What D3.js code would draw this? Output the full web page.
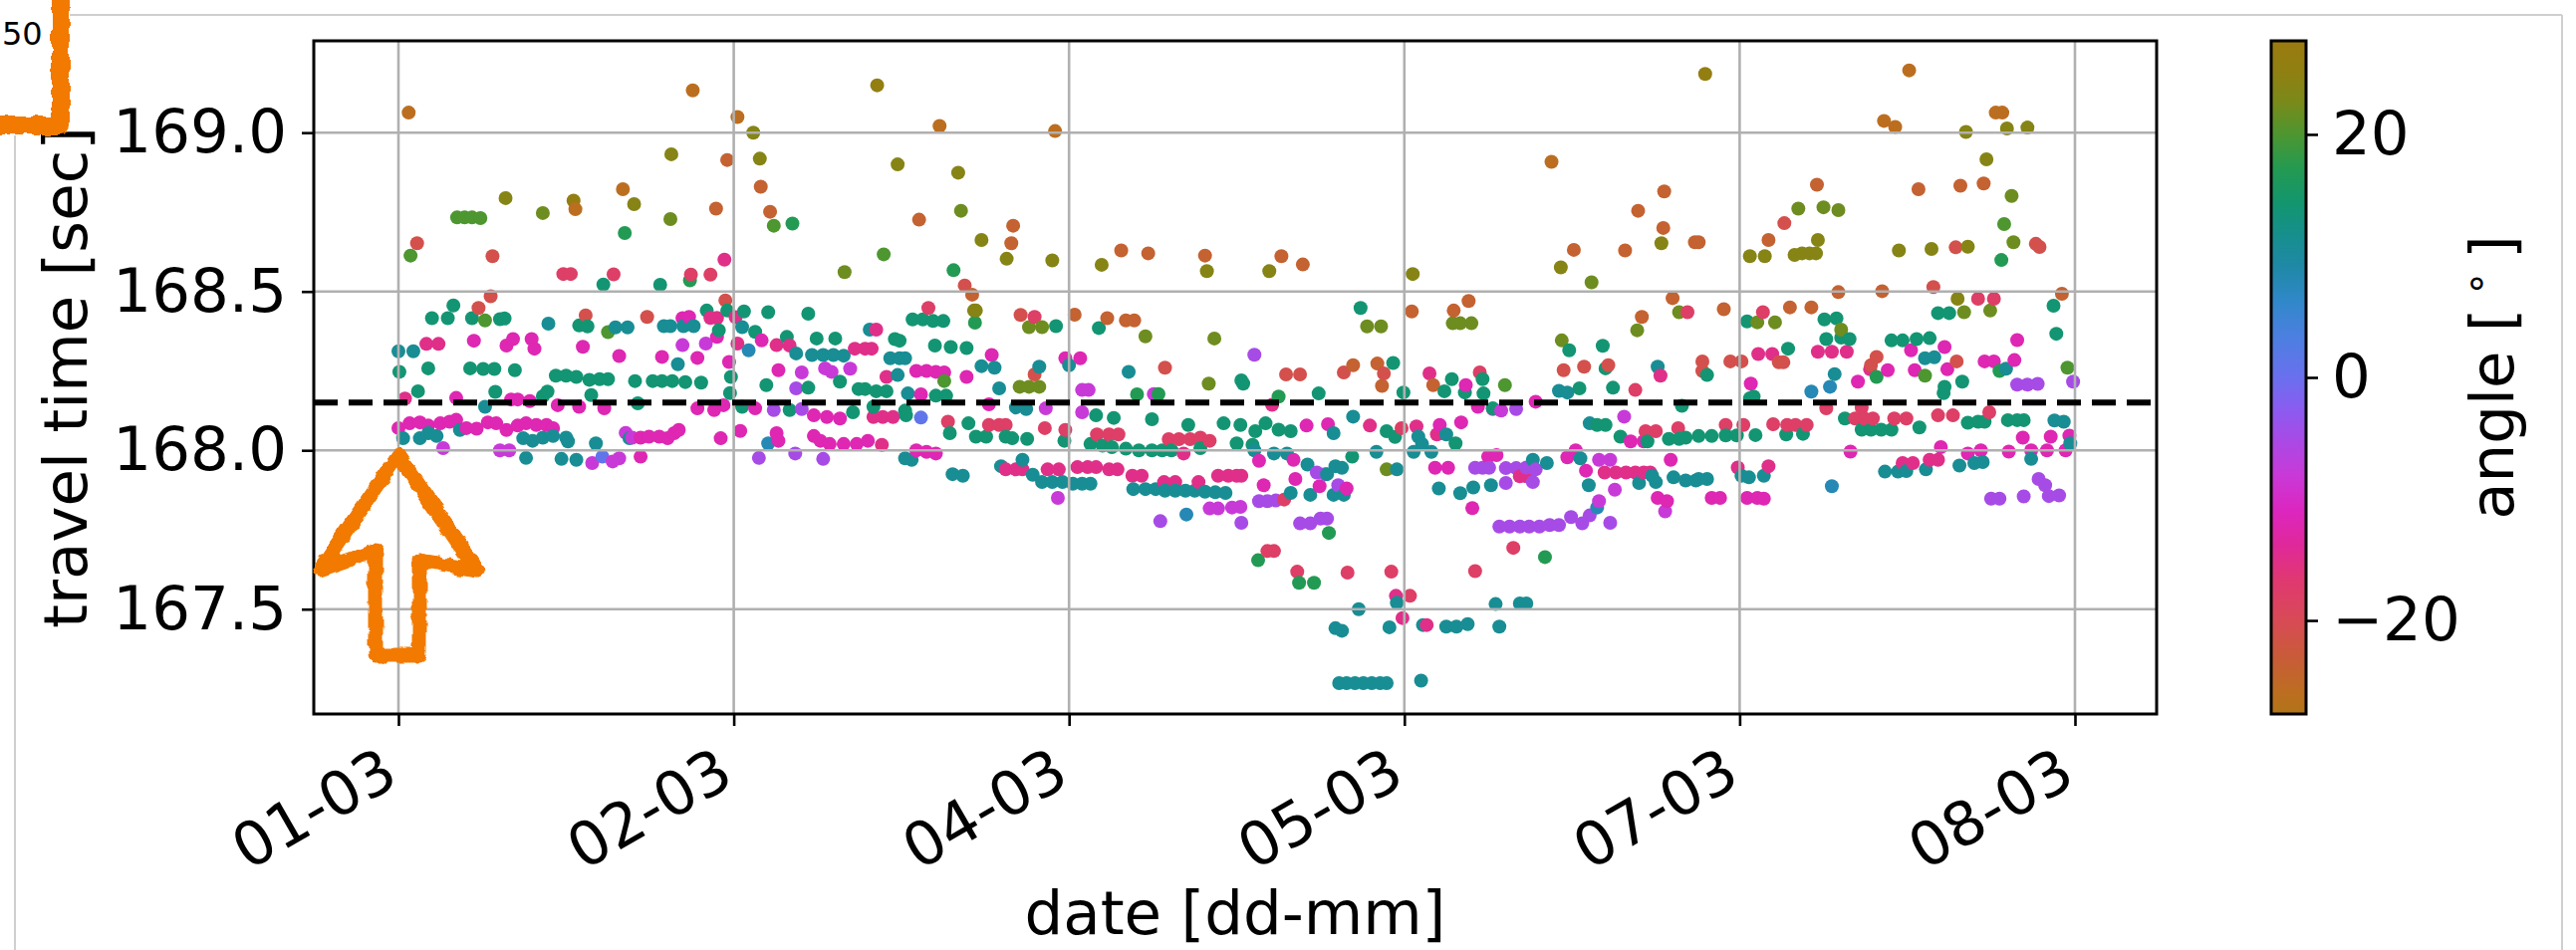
<!DOCTYPE html>
<html><head><meta charset="utf-8">
<script src="https://cdn.jsdelivr.net/npm/d3@7"></script>
<style>
html,body{margin:0;padding:0;background:#fff;}
svg{display:block;}
text{font-family:"DejaVu Sans",sans-serif;fill:#000;}
</style>
</head><body>
<svg id="c" width="2586" height="954"></svg>
<script>
// ---------------- data ----------------
// x tick positions (36 h apart) and labels rendered as dd-mm
const xTickDates = ["2020-03-01T00:00:00Z","2020-03-02T12:00:00Z","2020-03-04T00:00:00Z","2020-03-05T12:00:00Z","2020-03-07T00:00:00Z","2020-03-08T12:00:00Z"];
const yTicks = [167.5, 168.0, 168.5, 169.0];
const cbTicks = [-20, 0, 20];
const meanTravelTime = 168.15;
const startDate = "2020-03-01T00:00:00Z";

// colormap (angle in degrees -> colour), cyclic "phase"-like map
const cmapAngles = [-27.7,-26,-23.1,-20,-16.6,-13.8,-10.9,-8,-5.1,-2.6,0,3.5,6.4,9,11.8,14.4,17.3,20,22.7,25,27.7];
const cmapColors = ["#b07418","#bc6e20","#c85c38","#d84a55","#e03872","#e0289a","#dc26c0","#c83ad8","#a84ae6","#8a5cf0","#6a70ee","#4a80e0","#3088c8","#2088a8","#168f8c","#13966e","#259a50","#4d9630","#7a8a1a","#8f8012","#9a7a10"];

// points: [hours since 01-03 00:00, travel time (s)], grouped by angle (deg)
const pts_p26 = [[51.4,169.149],[18.8,168.786],[140.3,169.185]];
const pts_m26 = [[1.1,169.063],[31.6,169.133],[36.4,169.049],[58.1,169.021],[70.5,169.005],[24.1,168.822],[19.0,168.759],[123.8,168.908],[159.5,169.037],[160.7,169.018],[162.2,169.196],[171.5,169.063],[172.2,169.063]];
const pts_m24 = [[35.3,168.914],[38.9,168.83],[34.1,168.761],[39.9,168.751],[55.9,168.726],[66.0,168.707],[65.8,168.652],[61.6,168.49],[77.6,168.629],[80.5,168.62],[86.6,168.613],[94.8,168.611],[97.1,168.585],[126.2,168.631],[131.7,168.629],[133.1,168.754],[135.9,168.815],[135.8,168.70],[139.2,168.655],[139.6,168.655],[147.1,168.662],[152.3,168.836],[154.6,168.498],[159.3,168.501],[163.2,168.822],[167.7,168.833],[170.2,168.84],[178.6,168.493],[72.6,168.427],[76.1,168.416],[78.1,168.409],[79.0,168.409],[102.5,168.268],[105.1,168.273],[105.6,168.203],[108.8,168.437],[113.3,168.44],[114.9,168.47],[111.1,168.205],[133.5,168.42],[136.8,168.479],[142.3,168.444],[149.4,168.45],[151.7,168.45]];
const pts_m21 = [[2.0,168.652],[10.1,168.611],[60.8,168.519],[148.8,168.715],[164.8,168.514],[167.2,168.639],[175.8,168.65],[176.2,168.64],[9.9,168.485],[35.1,168.472],[8.6,168.448],[20.1,168.425],[26.7,168.42],[66.8,168.426],[82.3,168.26],[68.3,168.239],[95.3,168.239],[96.8,168.239],[101.5,168.245],[105.8,168.242],[125.1,168.252],[127.3,168.263],[129.9,168.268],[140.0,168.28],[140.0,168.25],[143.0,168.28],[144.2,168.28],[148.2,168.277],[148.7,168.277],[158.7,168.294],[158.1,168.268],[167.3,168.28]];
const pts_m18 = [[17.7,168.555],[18.5,168.555],[23.1,168.554],[31.4,168.553],[33.5,168.553],[56.9,168.448],[68.3,168.42],[59.0,168.09],[69.4,168.07],[71.6,168.064],[75.0,168.05],[76.3,168.05],[77.3,168.05],[82.7,168.035],[83.8,168.035],[85.0,168.035],[86.1,168.04],[87.1,168.03],[63.4,168.08],[64.5,168.08],[65.2,168.08],[107.7,168.07],[133.9,168.06],[135.0,168.06],[137.4,168.07],[138.4,168.435],[132.8,168.19],[116.1,168.245],[95.1,167.845],[93.3,167.683],[94.0,167.683],[96.5,167.618],[101.9,167.615],[106.6,167.618],[108.6,167.542],[119.7,167.693],[115.6,167.62],[169.6,168.477],[171.3,168.477],[146.5,168.435],[153.3,168.132],[142.5,168.08],[144.4,168.08],[147.6,168.082],[149.1,168.08],[150.0,168.08],[151.2,168.08],[156.4,168.1],[157.4,168.1],[158.3,168.1],[160.6,168.1],[161.9,168.1],[157.1,168.134],[165.3,168.11],[166.9,168.11],[170.8,168.12]];
const pts_m15 = [[35.0,168.6],[33.5,168.417],[34.2,168.417],[36.2,168.419],[36.4,168.336],[40.6,168.331],[0.7,168.163],[3.0,168.335],[4.3,168.335],[42.0,168.33],[49.0,168.32],[50.1,168.32],[50.8,168.32],[51.3,168.38],[52.4,168.231],[51.0,168.105],[52.0,168.105],[53.1,168.105],[51.9,168.017],[84.3,167.99],[65.2,167.94],[66.3,167.94],[67.0,167.94],[69.7,167.94],[70.9,167.94],[72.9,167.947],[74.0,167.947],[74.9,167.947],[76.3,167.94],[77.2,167.94],[78.8,167.92],[79.8,167.92],[82.2,167.9],[83.4,167.9],[85.9,167.9],[88.0,167.92],[89.1,167.92],[90.0,167.92],[90.5,167.92],[93.8,168.143],[104.3,168.078],[109.3,168.075],[111.5,168.05],[110.7,168.242],[135.5,168.235],[107.1,167.542],[107.8,167.472],[110.4,167.45],[120.4,167.918],[121.1,167.918],[129.5,167.93],[130.7,167.93],[131.8,167.93],[132.8,167.93],[133.7,167.93],[134.4,167.93],[146.0,168.303],[147.5,168.303],[152.4,168.31],[153.9,168.31],[155.5,168.31],[158.0,168.255],[143.8,167.946],[147.1,167.95],[161.5,167.96],[162.6,167.96],[164.4,167.97],[165.3,167.97]];
const pts_m12 = [[8.1,168.345],[11.6,168.33],[12.3,168.35],[14.3,168.35],[14.6,168.32],[19.8,168.326],[23.7,168.297],[28.3,168.294],[32.1,168.291],[34.2,168.357],[35.5,168.278],[39.0,168.346],[40.8,168.252],[30.5,168.416],[31.2,168.42],[6.2,168.165],[12.1,168.16],[12.8,168.16],[14.1,168.155],[17.1,168.142],[19.4,168.137],[22.1,168.132],[32.1,168.132],[33.9,168.127],[34.9,168.142],[38.3,168.132],[0.0,168.07],[1.2,168.085],[2.3,168.088],[3.2,168.078],[4.5,168.085],[5.5,168.09],[6.2,168.096],[7.3,168.07],[8.4,168.068],[9.6,168.088],[10.5,168.085],[11.6,168.064],[12.8,168.078],[13.7,168.085],[14.8,168.08],[15.9,168.08],[16.6,168.07],[26.0,168.04],[26.9,168.043],[28.0,168.043],[28.9,168.038],[29.6,168.054],[30.1,168.064],[34.6,168.038],[36.7,168.061],[40.6,168.054],[40.8,168.03],[26.0,167.98],[63.7,168.3],[61.0,168.231],[55.6,168.25],[56.7,168.25],[57.7,168.247],[58.6,168.245],[56.1,168.176],[71.6,168.29],[73.2,168.29],[63.4,168.145],[44.6,168.11],[46.0,168.105],[47.4,168.1],[44.6,168.045],[45.3,168.03],[46.3,168.02],[47.8,168.02],[49.2,168.02],[50.4,168.03],[55.6,168.0],[56.7,167.995],[57.7,167.99],[114.6,168.205],[115.9,168.137],[122.1,168.153],[97.5,168.078],[99.8,168.082],[111.8,168.08],[114.1,168.088],[92.4,167.967],[96.1,167.97],[92.9,167.89],[96.3,167.91],[98.9,167.887],[101.8,167.88],[111.3,167.945],[112.7,167.945],[115.3,167.818],[117.0,167.98],[117.9,167.985],[125.5,167.978],[126.4,168.0],[127.5,167.936],[135.2,167.85],[136.2,167.84],[136.6,167.97],[132.3,168.028],[133.7,168.028],[145.2,168.21],[156.7,168.216],[159.9,168.252],[162.4,168.315],[162.8,168.252],[166.0,168.325],[166.3,168.255],[170.3,168.28],[171.3,168.28],[173.5,168.284],[173.8,168.347],[141.0,167.85],[141.9,167.85],[144.8,167.85],[145.9,167.85],[146.6,167.848],[155.9,167.996],[165.6,168.01],[168.5,167.99],[169.9,168.0],[172.9,167.996],[174.4,168.04],[175.3,168.0],[177.0,168.0],[179.0,168.0],[177.4,168.043],[179.4,168.046]];
const pts_m8 = [[30.5,168.331],[33.0,168.336],[24.4,168.055],[25.1,168.04],[4.8,168.007],[10.9,168.0],[11.9,168.0],[20.8,167.96],[23.0,167.965],[23.7,167.975],[43.3,168.245],[45.8,168.258],[46.5,168.247],[48.5,168.257],[73.4,168.19],[74.1,168.19],[81.1,168.177],[69.5,168.132],[73.4,168.12],[70.8,167.85],[87.1,167.817],[88.0,167.817],[89.5,167.82],[90.4,167.822],[117.5,168.13],[118.4,168.125],[131.6,168.106],[128.9,167.84],[128.9,167.97],[130.1,167.97],[130.6,167.876],[136.0,167.808]];
const pts_m5 = [[40.3,168.127],[38.7,167.976],[42.7,168.195],[43.3,168.13],[42.6,167.99],[45.6,167.973],[81.8,167.777],[90.5,167.772],[91.9,168.301],[120.0,168.13],[92.4,167.84],[93.3,167.84],[94.2,167.842],[98.6,167.93],[99.5,167.925],[100.9,167.89],[96.8,167.77],[97.9,167.77],[99.0,167.785],[99.7,167.785],[115.6,167.945],[116.4,167.945],[117.1,167.945],[118.9,167.897],[118.9,167.944],[120.0,167.944],[121.1,167.946],[122.1,167.94],[121.8,167.9],[118.2,167.76],[119.3,167.76],[120.4,167.76],[121.4,167.76],[122.5,167.76],[123.6,167.765],[124.6,167.765],[125.9,167.79],[127.1,167.77],[127.9,167.795],[130.1,167.772],[179.8,168.216],[173.8,168.207],[174.9,168.207],[176.0,168.209],[176.1,167.91],[176.8,167.89],[171.0,167.848],[171.9,167.848],[174.5,167.855],[177.2,167.856],[178.3,167.858]];
const pts_p1 = [[21.9,167.98],[56.1,168.103]];
const pts_p8 = [[37.6,168.315],[39.7,168.022],[84.6,167.798],[128.7,167.82],[151.7,168.185],[153.7,168.2],[153.9,167.887]];
const pts_p11 = [[16.1,168.399],[23.3,168.387],[24.6,168.387],[28.5,168.391],[29.2,168.391],[30.6,168.391],[31.7,168.391],[36.9,168.388],[0.0,168.312],[1.6,168.312],[30.0,168.271],[9.3,168.137],[0.5,168.038],[2.3,168.038],[3.2,168.054],[4.1,168.045],[6.6,168.064],[13.4,168.038],[14.4,168.03],[15.5,168.04],[16.6,168.045],[18.0,168.04],[18.2,168.028],[21.2,168.022],[24.8,168.038],[13.7,167.976],[17.5,167.973],[19.1,167.97],[42.7,168.305],[44.4,168.3],[45.6,168.3],[46.7,168.3],[47.8,168.298],[50.6,168.38],[52.8,168.29],[53.8,168.29],[54.4,168.29],[53.6,168.237],[62.6,168.265],[64.0,168.26],[54.7,168.179],[64.5,168.195],[68.8,168.263],[72.0,168.268],[78.4,168.247],[66.3,168.135],[67.4,168.13],[54.4,167.975],[55.1,167.97],[59.5,167.925],[60.6,167.92],[64.7,167.95],[67.0,167.97],[68.1,167.923],[69.1,167.9],[70.2,167.9],[71.3,167.9],[72.4,167.895],[73.4,167.895],[74.3,167.895],[78.9,167.878],[80.2,167.878],[81.3,167.878],[82.3,167.873],[83.4,167.873],[84.5,167.873],[85.5,167.873],[86.6,167.87],[87.7,167.868],[88.8,167.866],[100.4,168.054],[102.5,168.106],[109.5,168.043],[109.9,168.02],[112.5,168.05],[91.9,168.0],[94.0,167.99],[95.4,167.99],[105.0,167.995],[109.0,167.995],[110.9,167.995],[95.8,167.866],[97.6,167.955],[99.7,167.925],[100.6,167.95],[101.3,167.945],[97.9,167.86],[100.4,167.86],[101.5,167.86],[107.2,167.52],[103.1,167.5],[100.6,167.44],[101.3,167.432],[106.4,167.443],[110.0,167.45],[112.5,167.445],[113.6,167.445],[114.8,167.453],[118.2,167.445],[117.8,167.516],[120.4,167.518],[121.1,167.518],[101.0,167.267],[101.8,167.267],[102.7,167.267],[103.6,167.267],[104.5,167.267],[105.4,167.267],[106.1,167.267],[109.8,167.275],[107.2,167.94],[111.7,167.88],[114.0,167.865],[115.4,167.883],[117.3,167.89],[121.8,167.97],[123.3,167.96],[124.6,168.187],[125.5,168.182],[126.9,167.975],[127.8,167.89],[127.9,168.085],[133.2,167.897],[134.6,167.92],[135.0,167.9],[135.2,168.263],[136.9,167.915],[138.2,167.905],[139.3,167.905],[154.2,168.24],[163.9,168.29],[164.9,168.293],[172.6,168.257],[177.8,168.094],[178.8,168.09],[139.6,167.91],[140.5,167.91],[144.2,167.92],[145.0,167.915],[146.6,167.92],[159.6,167.933],[161.0,167.933],[161.9,167.935],[164.0,167.94],[167.6,167.952],[169.2,167.96],[170.1,167.963],[175.3,167.973],[179.5,168.022]];
const pts_p14 = [[22.0,168.522],[28.1,168.521],[5.9,168.456],[3.6,168.416],[5.3,168.416],[7.9,168.416],[10.9,168.413],[11.4,168.415],[19.4,168.393],[20.3,168.39],[33.1,168.44],[34.4,168.378],[35.3,168.44],[37.1,168.437],[39.7,168.435],[38.3,168.373],[0.1,168.247],[3.2,168.258],[7.7,168.258],[9.1,168.256],[10.3,168.256],[12.5,168.252],[16.9,168.235],[18.0,168.235],[19.1,168.231],[20.5,168.222],[21.6,168.224],[22.5,168.224],[25.4,168.218],[27.3,168.218],[28.3,168.218],[29.4,168.218],[30.8,168.215],[32.5,168.213],[35.7,168.231],[39.5,168.205],[2.1,168.186],[10.4,168.184],[15.5,168.17],[16.0,168.185],[20.7,168.174],[25.7,168.148],[35.6,168.18],[36.9,168.137],[44.0,168.43],[55.2,168.412],[56.3,168.412],[57.4,168.407],[58.5,168.407],[70.6,168.391],[75.2,168.385],[41.7,168.357],[44.9,168.352],[46.9,168.352],[53.3,168.35],[53.8,168.345],[57.6,168.33],[59.3,168.325],[61.0,168.322],[47.4,168.216],[44.0,168.197],[49.4,168.193],[50.1,168.193],[51.3,168.186],[52.4,168.186],[57.7,168.172],[58.8,168.172],[90.5,168.22],[90.7,168.21],[42.0,168.127],[48.8,168.12],[51.0,168.137],[54.4,168.125],[54.5,168.11],[74.9,168.11],[76.8,168.102],[80.9,168.098],[84.8,168.08],[88.6,168.085],[90.4,168.08],[59.2,168.054],[61.2,168.085],[62.0,168.043],[63.1,168.043],[65.2,168.043],[65.9,168.038],[67.5,168.036],[71.5,168.03],[74.3,168.02],[75.6,168.015],[76.6,168.01],[78.1,168.005],[79.5,168.0],[80.9,168.0],[82.0,168.0],[83.0,168.0],[86.1,168.007],[90.0,168.022],[103.3,168.448],[106.8,168.275],[113.1,168.224],[112.3,168.186],[114.5,168.182],[116.4,168.224],[116.5,168.179],[107.9,168.182],[98.8,168.179],[125.7,168.315],[129.3,168.329],[129.6,168.258],[140.5,168.237],[126.8,168.195],[130.4,168.197],[117.5,168.132],[137.8,168.14],[131.2,168.043],[134.1,168.028],[136.4,168.036],[137.5,168.036],[138.2,168.04],[92.0,168.06],[93.1,168.085],[94.5,168.065],[95.8,168.06],[106.1,168.06],[107.0,168.042],[113.5,168.022],[91.7,168.017],[102.4,167.98],[128.7,168.08],[129.6,168.08],[165.3,168.432],[166.5,168.432],[177.7,168.455],[178.0,168.367],[144.8,168.406],[149.2,168.32],[153.1,168.412],[154.4,168.415],[153.3,168.35],[154.9,168.355],[155.8,168.35],[160.3,168.346],[161.5,168.346],[163.0,168.35],[164.4,168.353],[166.0,168.2],[165.9,168.18],[167.9,168.216],[145.1,168.164],[145.5,168.169],[139.6,168.045],[141.0,168.045],[142.5,168.047],[143.7,168.047],[145.7,168.048],[149.0,168.05],[150.8,168.052],[155.3,168.1],[157.1,168.065],[158.1,168.065],[159.2,168.065],[160.3,168.065],[163.3,168.072],[168.5,168.087],[169.6,168.09],[170.3,168.09],[172.8,168.095],[173.8,168.095],[174.5,168.095]];
const pts_p17 = [[42.3,168.714],[24.3,168.684],[31.3,168.535],[59.6,168.567],[172.1,168.599],[61.9,168.402],[79.3,168.176],[81.6,168.177],[94.5,168.169],[99.9,167.74],[92.3,167.654],[96.7,167.583],[98.3,167.583],[123.1,167.664],[158.7,168.231],[171.9,168.25]];
const pts_p20 = [[6.3,168.733],[7.1,168.733],[7.9,168.733],[8.8,168.731],[40.3,168.707],[1.3,168.613],[52.1,168.617],[172.4,168.712],[9.3,168.409],[22.5,168.372],[58.6,168.218],[118.8,168.205],[179.2,168.26],[163.9,168.235]];
const pts_p22 = [[15.5,168.747],[29.2,168.728],[60.4,168.754],[47.9,168.561],[128.1,168.529],[150.3,168.761],[153.0,168.765],[154.6,168.756],[173.2,168.801],[173.4,168.655],[67.7,168.388],[69.1,168.388],[80.2,168.359],[87.6,168.352],[87.0,168.21],[66.7,168.2],[67.7,168.2],[68.8,168.2],[104.0,168.39],[105.5,168.39],[113.2,168.4],[114.0,168.4],[115.2,168.4],[124.9,168.346],[133.0,168.378],[137.5,168.435],[106.1,167.94],[168.1,168.435],[170.9,168.44],[145.9,168.403],[147.8,168.403],[154.9,168.38]];
const pts_p24 = [[38.1,169.0],[29.3,168.932],[38.8,168.918],[53.6,168.9],[60.1,168.874],[11.5,168.794],[25.3,168.775],[62.6,168.662],[65.3,168.603],[70.2,168.598],[75.5,168.584],[86.8,168.564],[93.5,168.564],[108.9,168.555],[124.8,168.576],[135.6,168.652],[145.1,168.611],[146.7,168.611],[149.9,168.615],[150.7,168.62],[151.5,168.62],[152.2,168.62],[152.4,168.662],[161.1,168.629],[164.6,168.634],[168.3,169.002],[168.5,168.641],[170.5,168.916],[172.7,169.013],[174.9,169.016],[61.8,168.44],[62.0,168.44],[167.4,168.477]];

const groupAngles = [26,-26,-24,-21,-18,-15,-12,-8,-5,1,8,11,14,17,20,22,24];
const groupPoints = [pts_p26,pts_m26,pts_m24,pts_m21,pts_m18,pts_m15,pts_m12,pts_m8,pts_m5,pts_p1,pts_p8,pts_p11,pts_p14,pts_p17,pts_p20,pts_p22,pts_p24];

// ---------------- drawing ----------------
const W = 2586, H = 954;
const plot = {left:315, right:2165, top:41, bottom:717};
const t0 = new Date(startDate).getTime();
const toDate = h => new Date(t0 + h * 3600e3);

const x = d3.scaleUtc().domain([toDate(-9.09), toDate(188.77)]).range([plot.left, plot.right]);
const y = d3.scaleLinear().domain([167.170, 169.289]).range([plot.bottom, plot.top]);
const color = d3.scaleLinear().domain(cmapAngles).range(cmapColors).interpolate(d3.interpolateRgb).clamp(true);
const cbScale = d3.scaleLinear().domain([-27.7, 27.7]).range([plot.bottom, plot.top]);

const svg = d3.select("#c");
svg.append("rect").attr("width", W).attr("height", H).attr("fill", "#fff");

const defs = svg.append("defs");
const filt = defs.append("filter").attr("id","rough").attr("x","-20%").attr("y","-20%").attr("width","140%").attr("height","140%");
filt.append("feTurbulence").attr("type","fractalNoise").attr("baseFrequency","0.09").attr("numOctaves",2).attr("seed",4).attr("result","n");
filt.append("feDisplacementMap").attr("in","SourceGraphic").attr("in2","n").attr("scale",7).attr("xChannelSelector","R").attr("yChannelSelector","G");

// faint outer frame of the screenshot
const frame = svg.append("g").attr("stroke","#cfcfcf").attr("stroke-width",2).attr("fill","none");
frame.append("line").attr("x1",70).attr("y1",15).attr("x2",2572).attr("y2",15);
frame.append("line").attr("x1",15).attr("y1",136).attr("x2",15).attr("y2",H);
frame.append("line").attr("x1",2572).attr("y1",15).attr("x2",2572).attr("y2",H);

// stray label top-left
svg.append("text").attr("x",2).attr("y",45).attr("text-anchor","start").attr("font-size",32).text("50");

// scatter points in time order
const all = [];
groupPoints.forEach((pts, i) => pts.forEach(p => all.push({h:p[0], v:p[1], a:groupAngles[i]})));
all.sort((a,b) => a.h - b.h);
svg.append("g").selectAll("circle").data(all).join("circle")
  .attr("cx", d => x(toDate(d.h)))
  .attr("cy", d => y(d.v))
  .attr("r", 7)
  .attr("fill", d => color(d.a));

// grid
const xTicks = xTickDates.map(s => new Date(s));
const grid = svg.append("g").attr("stroke","#b0b0b0").attr("stroke-width",2.6);
grid.selectAll(".gx").data(xTicks).join("line")
  .attr("x1", d => x(d)).attr("x2", d => x(d)).attr("y1", plot.top).attr("y2", plot.bottom);
grid.selectAll(".gy").data(yTicks).join("line")
  .attr("y1", d => y(d)).attr("y2", d => y(d)).attr("x1", plot.left).attr("x2", plot.right);

// mean line
svg.append("line")
  .attr("x1", plot.left).attr("x2", plot.right)
  .attr("y1", y(meanTravelTime)).attr("y2", y(meanTravelTime))
  .attr("stroke","#000").attr("stroke-width",6).attr("stroke-dasharray","24 11");

// plot frame
svg.append("rect").attr("x",plot.left).attr("y",plot.top)
  .attr("width",plot.right-plot.left).attr("height",plot.bottom-plot.top)
  .attr("fill","none").attr("stroke","#000").attr("stroke-width",3);

// axes
const fs = 61;
const xAxis = svg.append("g").attr("transform",`translate(0,${plot.bottom})`)
  .call(d3.axisBottom(x).tickValues(xTicks).tickFormat(d3.utcFormat("%d-%m")).tickSize(12));
xAxis.select(".domain").remove();
xAxis.selectAll("line").attr("stroke","#000").attr("stroke-width",2.6);
xAxis.selectAll("text").attr("font-size",fs).attr("font-family","DejaVu Sans").attr("fill","#000")
  .attr("y",null).attr("dy",null).attr("text-anchor","end")
  .attr("transform","translate(2,69) rotate(-30)");

const yAxis = svg.append("g").attr("transform",`translate(${plot.left},0)`)
  .call(d3.axisLeft(y).tickValues(yTicks).tickFormat(d3.format(".1f")).tickSize(12).tickPadding(15));
yAxis.select(".domain").remove();
yAxis.selectAll("line").attr("stroke","#000").attr("stroke-width",2.6);
yAxis.selectAll("text").attr("font-size",fs).attr("font-family","DejaVu Sans").attr("fill","#000");

svg.append("text").attr("x",(plot.left+plot.right)/2).attr("y",938)
  .attr("text-anchor","middle").attr("font-size",fs).text("date [dd-mm]");
svg.append("text").attr("transform",`translate(87,${(plot.top+plot.bottom)/2}) rotate(-90)`)
  .attr("text-anchor","middle").attr("font-size",fs).text("travel time [sec]");

// colorbar
const cbx = 2280, cbw = 35;
const grad = defs.append("linearGradient").attr("id","cbg").attr("x1",0).attr("y1",1).attr("x2",0).attr("y2",0);
cmapAngles.forEach((a,i) => grad.append("stop")
  .attr("offset", (a - cmapAngles[0]) / (cmapAngles[cmapAngles.length-1] - cmapAngles[0]))
  .attr("stop-color", cmapColors[i]));
svg.append("rect").attr("x",cbx).attr("y",plot.top).attr("width",cbw).attr("height",plot.bottom-plot.top)
  .attr("fill","url(#cbg)").attr("stroke","#000").attr("stroke-width",3);
const cAxis = svg.append("g").attr("transform",`translate(${cbx+cbw},0)`)
  .call(d3.axisRight(cbScale).tickValues(cbTicks).tickSize(12).tickPadding(14));
cAxis.select(".domain").remove();
cAxis.selectAll("line").attr("stroke","#000").attr("stroke-width",2.6);
cAxis.selectAll("text").attr("font-size",fs).attr("font-family","DejaVu Sans").attr("fill","#000");

const cl = svg.append("text").attr("transform",`translate(2523,${(plot.top+plot.bottom)/2}) rotate(-90)`)
  .attr("text-anchor","middle").attr("font-size",fs);
cl.append("tspan").text("angle [\u2009");
cl.append("tspan").attr("font-size",40).attr("dy",-24).text("\u2218");
cl.append("tspan").attr("dy",24).text("\u2009]");

// hand-drawn orange annotations
const ann = svg.append("g").attr("fill","none").attr("stroke","#f27a00").attr("stroke-linejoin","round").attr("filter","url(#rough)");
ann.append("path").attr("d","M61,-10 L61,126 L-10,126").attr("stroke-width",18);
ann.append("path").attr("d","M400,457 L479,573 L421,563 L421,658 L377,658 L377,553 L321,572 Z").attr("stroke-width",15);
</script>
</body></html>
